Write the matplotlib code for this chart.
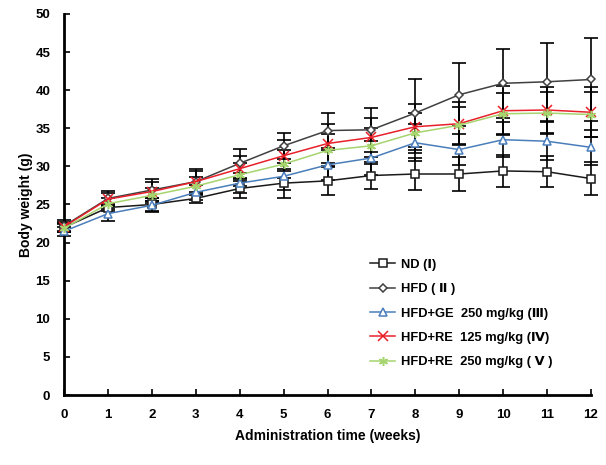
import matplotlib
matplotlib.use("Agg")
import matplotlib.pyplot as plt

plt.rcParams['font.family'] = ['Liberation Sans', 'DejaVu Sans']
plt.rcParams['font.weight'] = 'bold'

# data
weeks = list(range(13))
labels = ["ND (Ⅰ)", "HFD ( Ⅱ )", "HFD+GE  250 mg/kg (Ⅲ)",
          "HFD+RE  125 mg/kg (Ⅳ)", "HFD+RE  250 mg/kg ( Ⅴ )"]
nd = [22.0, 24.6, 25.0, 25.8, 27.1, 27.8, 28.1, 28.8, 29.0, 29.0, 29.4, 29.3, 28.4]
nd_err = [0.6, 0.5, 0.8, 0.6, 1.3, 1.9, 1.9, 1.8, 2.1, 2.2, 2.1, 2.0, 2.2]
hfd = [22.2, 25.8, 26.9, 28.0, 30.4, 32.7, 34.7, 34.8, 37.0, 39.4, 40.9, 41.1, 41.4]
hfd_err = [0.8, 1.0, 1.5, 1.6, 1.9, 1.7, 2.3, 2.9, 4.5, 4.1, 4.5, 5.1, 5.5]
ge = [21.5, 23.8, 24.9, 26.6, 27.8, 28.7, 30.2, 31.1, 33.1, 32.2, 33.5, 33.3, 32.5]
ge_err = [0.6, 1.0, 0.9, 1.0, 1.3, 1.8, 2.0, 2.2, 2.4, 2.0, 2.3, 2.5, 2.3]
re125 = [22.1, 25.7, 26.7, 28.0, 29.7, 31.4, 33.0, 33.8, 35.2, 35.6, 37.3, 37.4, 37.1]
re125_err = [0.6, 0.8, 1.2, 1.4, 1.6, 2.0, 2.5, 2.6, 3.0, 2.8, 3.2, 3.0, 3.3]
re250 = [21.9, 25.1, 26.2, 27.4, 28.9, 30.3, 32.1, 32.7, 34.4, 35.4, 36.9, 37.0, 36.8]
re250_err = [0.5, 0.7, 1.0, 1.2, 1.5, 1.8, 2.2, 2.4, 2.6, 2.4, 2.7, 2.8, 3.0]

series = [nd, hfd, ge, re125, re250]
errs = [nd_err, hfd_err, ge_err, re125_err, re250_err]
colors = ['#1a1a1a', '#404040', '#4a7ebb', '#e8202a', '#a6d46e']
markers = ['s', 'D', '^', 'x', (6, 2, 0)]
msizes = [6, 4.5, 6, 6.5, 6.5]
faces = ['white', 'white', 'white', '#e8202a', '#a6d46e']

fig = plt.figure(figsize=(6.06, 4.65), dpi=100)
ax = fig.add_axes([0.106, 0.1505, 0.869, 0.8195])

for y, e in zip(series, errs):
    ax.errorbar(weeks, y, yerr=e, fmt='none', ecolor='black', elinewidth=1.2,
                capsize=5, capthick=1.2, zorder=2, clip_on=False)

for y, c, m, ms, fc, lab in zip(series, colors, markers, msizes, faces, labels):
    ax.plot(weeks, y, color=c, lw=1.1, marker=m, ms=ms, mfc=fc, mec=c,
            mew=1.1, label=lab, zorder=3, clip_on=False)

ax.set_xlim(0, 12)
ax.set_ylim(0, 50)
ax.set_xticks(weeks)
ax.set_yticks(range(0, 51, 5))
ax.spines['top'].set_visible(False)
ax.spines['right'].set_visible(False)
ax.spines['left'].set_linewidth(2)
ax.spines['bottom'].set_linewidth(2)
ax.tick_params(direction='in', length=4, width=1.2, labelsize=9.5, pad=10)
for t in ax.get_xticklabels() + ax.get_yticklabels():
    t.set_fontweight('bold')

ax.set_xlabel('Administration time (weeks)', fontsize=10, fontweight='bold', labelpad=6)
ax.set_ylabel('Body weight (g)', fontsize=10, fontweight='bold', labelpad=2)

ax.legend(loc='lower right', bbox_to_anchor=(0.95, 0.04), frameon=False,
          handlelength=1.9, labelspacing=0.95, handletextpad=0.5,
          prop={'weight': 'bold', 'size': 9.3, 'family': ['Liberation Sans', 'DejaVu Sans']})

fig.savefig('out.png', dpi=100)
